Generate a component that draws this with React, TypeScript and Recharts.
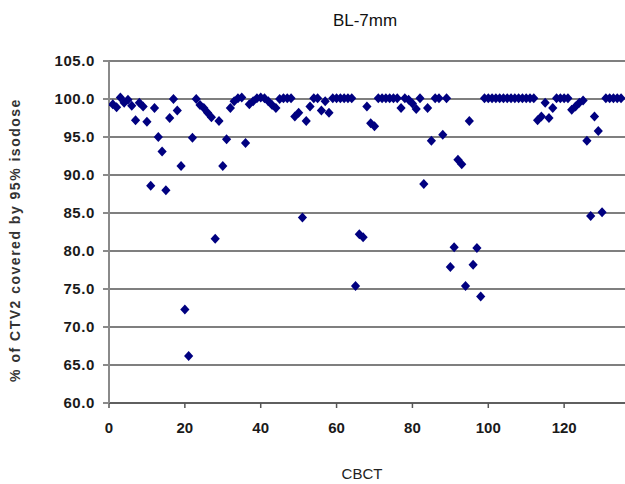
import React from 'react';
import { ScatterChart, Scatter, XAxis, YAxis, CartesianGrid } from 'recharts';

// CBCT number (x) and % of CTV2 covered by 95% isodose (y)
const cbct = [
  1, 2, 3, 4, 5, 6, 7, 8, 9, 10, 11, 12, 13, 14, 15, 16, 17, 18, 19, 20,
  21, 22, 23, 24, 25, 26, 27, 28, 29, 30, 31, 32, 33, 34, 35, 36, 37, 38, 39, 40,
  41, 42, 43, 44, 45, 46, 47, 48, 49, 50, 51, 52, 53, 54, 55, 56, 57, 58, 59, 60,
  61, 62, 63, 64, 65, 66, 67, 68, 69, 70, 71, 72, 73, 74, 75, 76, 77, 78, 79, 80,
  81, 82, 83, 84, 85, 86, 87, 88, 89, 90, 91, 92, 93, 94, 95, 96, 97, 98, 99, 100,
  101, 102, 103, 104, 105, 106, 107, 108, 109, 110, 111, 112, 113, 114, 115, 116, 117, 118, 119, 120,
  121, 122, 123, 124, 125, 126, 127, 128, 129, 130, 131, 132, 133, 134, 135,
];

const coverage = [
  99.3, 98.9, 100.2, 99.5, 99.9, 99.1, 97.2, 99.5, 99.0, 97.0, 88.6, 98.8, 95.0, 93.1, 88.0, 97.5, 100.0, 98.5, 91.2, 72.3,
  66.2, 94.9, 100.0, 99.2, 98.8, 98.2, 97.6, 81.6, 97.1, 91.2, 94.7, 98.8, 99.7, 100.1, 100.2, 94.2, 99.3, 99.7, 100.1, 100.2,
  100.1, 99.7, 99.2, 98.8, 100.0, 100.1, 100.1, 100.1, 97.7, 98.2, 84.4, 97.1, 99.0, 100.1, 100.1, 98.5, 99.7, 98.2, 100.1, 100.1,
  100.1, 100.1, 100.1, 100.1, 75.4, 82.2, 81.8, 99.0, 96.8, 96.4, 100.1, 100.1, 100.1, 100.1, 100.1, 100.1, 98.8, 100.1, 99.9, 99.4,
  98.7, 100.1, 88.8, 98.8, 94.5, 100.1, 100.1, 95.3, 100.1, 77.9, 80.5, 92.0, 91.4, 75.4, 97.1, 78.2, 80.4, 74.0, 100.1, 100.1,
  100.1, 100.1, 100.1, 100.1, 100.1, 100.1, 100.1, 100.1, 100.1, 100.1, 100.1, 100.1, 97.2, 97.7, 99.5, 97.5, 98.8, 100.1, 100.1, 100.1,
  100.1, 98.6, 99.0, 99.5, 99.8, 94.5, 84.6, 97.7, 95.8, 85.1, 100.1, 100.1, 100.1, 100.1, 100.1,
];

const xTicks = [0, 20, 40, 60, 80, 100, 120];
const yTicks = [60, 65, 70, 75, 80, 85, 90, 95, 100, 105];

const data = cbct.map((c, i) => ({ cbct: c, pct: coverage[i] }));

const Diamond = (props: any) => {
  const { cx, cy } = props;
  if (cx == null || cy == null) return null;
  return (
    <polygon
      points={`${cx},${cy - 5} ${cx + 4.6},${cy} ${cx},${cy + 5} ${cx - 4.6},${cy}`}
      fill="#000080"
    />
  );
};

const font = '"Liberation Sans", Arial, sans-serif';

export default function App() {
  return (
    <div style={{ position: 'absolute', left: 0, top: 0, width: 625, height: 484, overflow: 'hidden', background: '#fff' }}>
      <ScatterChart width={660} height={484} margin={{ top: 61, right: 20, left: 0, bottom: 0 }}>
        <CartesianGrid vertical={false} stroke="#555" strokeWidth={1.5} />
        <XAxis
          type="number"
          dataKey="cbct"
          domain={[0, 140]}
          ticks={xTicks}
          allowDataOverflow
          height={81}
          stroke="#555"
          strokeWidth={1.5}
          tickSize={5}
          tickMargin={14}
          tick={{ fill: '#1a1a1a', fontSize: 15, fontWeight: 'bold', fontFamily: font }}
        />
        <YAxis
          type="number"
          dataKey="pct"
          domain={[60, 105]}
          ticks={yTicks}
          allowDataOverflow
          width={109}
          stroke="#8a8a8a"
          strokeWidth={2}
          tickSize={6}
          tickMargin={8}
          tickFormatter={(v: number) => v.toFixed(1)}
          tick={{ fill: '#1a1a1a', fontSize: 15, fontWeight: 'bold', fontFamily: font, letterSpacing: 0.6 }}
        />
        <Scatter data={data} shape={Diamond} isAnimationActive={false} />
        <text x={365} y={26} textAnchor="middle" fontFamily={font} fontSize={17} fill="#111">
          BL-7mm
        </text>
        <text x={362} y={479} textAnchor="middle" fontFamily={font} fontSize={15} fill="#222">
          CBCT
        </text>
        <text
          x={0}
          y={0}
          transform="translate(20,240) rotate(-90)"
          textAnchor="middle"
          fontFamily={font}
          fontSize={14}
          fontWeight="bold"
          letterSpacing={1.5}
          fill="#333"
        >
          % of CTV2 covered by 95% isodose
        </text>
      </ScatterChart>
    </div>
  );
}
